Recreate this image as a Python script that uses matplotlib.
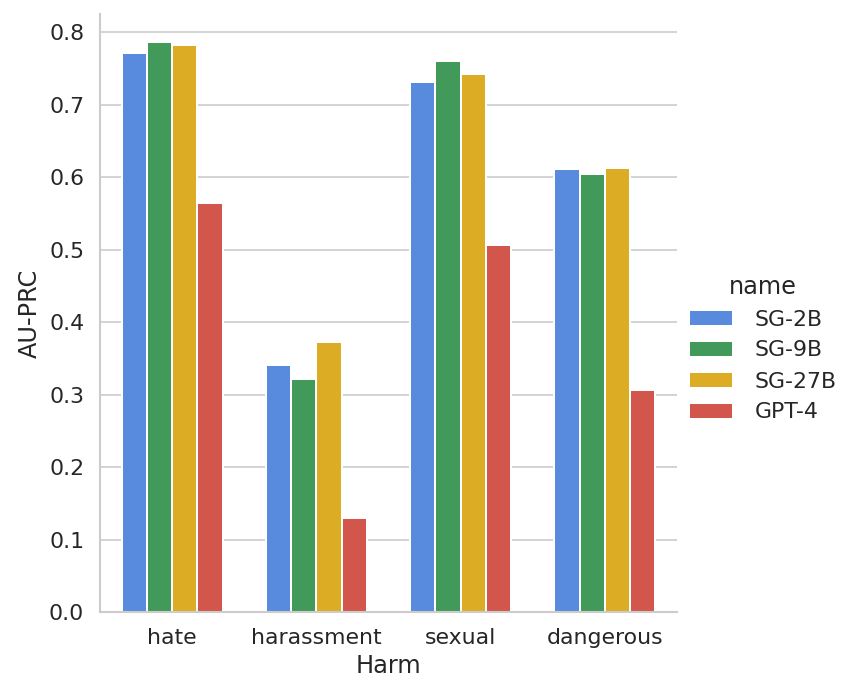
import numpy as np
import pandas as pd
import matplotlib
matplotlib.use("Agg")
import matplotlib.pyplot as plt
import seaborn as sns

harms = ["hate", "harassment", "sexual", "dangerous"]
names = ["SG-2B", "SG-9B", "SG-27B", "GPT-4"]
sg_2b = [0.772, 0.341, 0.732, 0.611]
sg_9b = [0.786, 0.321, 0.761, 0.605]
sg_27b = [0.783, 0.372, 0.742, 0.613]
gpt_4 = [0.565, 0.130, 0.506, 0.306]
colors = ["#4285F4", "#34A853", "#FBBC05", "#EA4335"]

rows = []
for name, vals in zip(names, [sg_2b, sg_9b, sg_27b, gpt_4]):
    for harm, v in zip(harms, vals):
        rows.append({"Harm": harm, "name": name, "AU-PRC": v})
df = pd.DataFrame(rows)

sns.set_theme(style="whitegrid", context="notebook", font_scale=1.2)

g = sns.catplot(data=df, x="Harm", y="AU-PRC", hue="name", kind="bar",
                palette=colors, saturation=0.75, height=5, aspect=1.0,
                width=0.7, edgecolor="white", linewidth=1.2)
g.figure.set_size_inches(851 / 120, 697 / 120)
g.figure.subplots_adjust(left=0.1175, right=0.7955, top=0.98, bottom=0.122)
sns.move_legend(g, "center left", bbox_to_anchor=(0.786, 0.5), frameon=False,
                handletextpad=1.0)

g.figure.savefig("out.png", dpi=120)
